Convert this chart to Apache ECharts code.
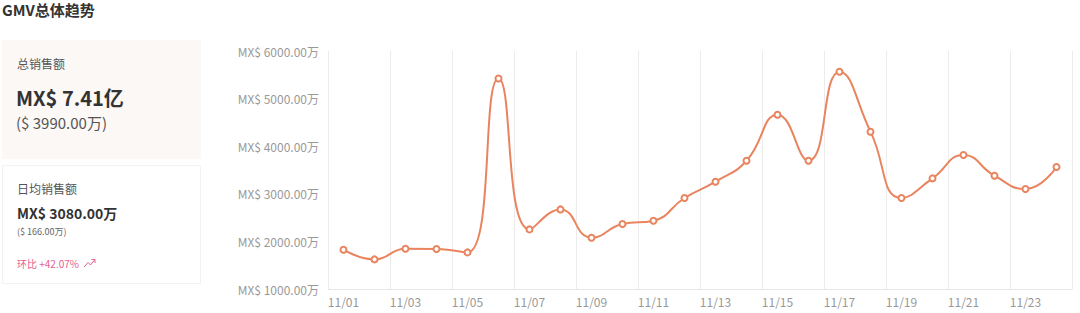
<!DOCTYPE html>
<html>
<head>
<meta charset="utf-8">
<script src="https://cdn.jsdelivr.net/npm/echarts@6/dist/echarts.min.js"></script>
<style>
html,body{margin:0;padding:0;background:#fff;}
#chart{width:1080px;height:313px;}
</style>
</head>
<body>
<div id="chart"></div>
<script>
const titleText = 'GMV总体趋势';
const categories = ['11/01','11/02','11/03','11/04','11/05','11/06','11/07','11/08','11/09','11/10','11/11','11/12',
  '11/13','11/14','11/15','11/16','11/17','11/18','11/19','11/20','11/21','11/22','11/23','11/24'];
// GMV in 万 (MX$)
const gmvValues = [1826,1622,1847,1840,1769,5424,2252,2672,2078,2365,2435,2912,
  3254,3695,4662,3695,5565,4305,2912,3324,3815,3380,3100,3563];
const yTicks = { min: 1000, max: 6000, interval: 1000 };
const card1 = { label: '总销售额', value: 'MX$ 7.41亿', sub: '($ 3990.00万)' };
const card2 = { label: '日均销售额', value: 'MX$ 3080.00万', sub: '($ 166.00万)', change: '环比 +42.07%' };

const FONT = '"Noto Sans CJK SC","Noto Sans",sans-serif';
const chart = echarts.init(document.getElementById('chart'), null, { renderer: 'svg' });

function txt(x, y, text, font, fill) {
  return { type: 'text', x: x, y: y, style: { text: text, font: font, fill: fill, verticalAlign: 'middle', align: 'left' } };
}

chart.setOption({
  animation: false,
  textStyle: { fontFamily: FONT },
  grid: { left: 328, right: 8, top: 51, bottom: 24, containLabel: false },
  graphic: [
    txt(2, 9, titleText, 'bold 15px ' + FONT, '#333'),
    { type: 'rect', shape: { x: 2, y: 40, width: 199, height: 119 }, style: { fill: '#fcf8f6' } },
    txt(17, 63, card1.label, '12px ' + FONT, '#555'),
    txt(16, 97, card1.value, 'bold 20px ' + FONT, '#333'),
    txt(16, 122, card1.sub, '15px ' + FONT, '#555'),
    { type: 'rect', shape: { x: 2.5, y: 165.5, width: 198, height: 118 }, style: { fill: '#fff', stroke: '#f2f2f2', lineWidth: 1 } },
    txt(17, 188, card2.label, '12px ' + FONT, '#555'),
    txt(17, 213, card2.value, 'bold 14px ' + FONT, '#333'),
    txt(17, 231, card2.sub, '9px ' + FONT, '#666'),
    txt(17, 263, card2.change, '10px ' + FONT, '#e8608f'),
    { type: 'polyline', shape: { points: [[84,267],[88,262.5],[90.5,265],[94.5,260]] }, style: { stroke: '#e8608f', lineWidth: 1, fill: null } },
    { type: 'polyline', shape: { points: [[91.5,259.5],[95,259.5],[95,263]] }, style: { stroke: '#e8608f', lineWidth: 1, fill: null } }
  ],
  xAxis: {
    type: 'category',
    data: categories,
    boundaryGap: true,
    axisLine: { show: true, lineStyle: { color: '#e6e6e6' } },
    axisTick: { show: false },
    axisLabel: { interval: 1, color: '#999', fontSize: 12, margin: 6, fontFamily: FONT },
    splitLine: { show: true, interval: 1, lineStyle: { color: '#ececec' } }
  },
  yAxis: {
    type: 'value',
    min: yTicks.min, max: yTicks.max, interval: yTicks.interval,
    axisLine: { show: false },
    axisTick: { show: false },
    splitLine: { show: false },
    axisLabel: { color: '#999', fontSize: 12, margin: 9, fontFamily: FONT,
      formatter: v => 'MX$ ' + v.toFixed(2) + '万' }
  },
  series: [{
    type: 'line',
    data: gmvValues,
    smooth: true,
    symbol: 'emptyCircle',
    symbolSize: 6,
    lineStyle: { color: '#e9845f', width: 2 },
    itemStyle: { color: '#e9845f', borderWidth: 1.5 }
  }]
});
</script>
</body>
</html>
